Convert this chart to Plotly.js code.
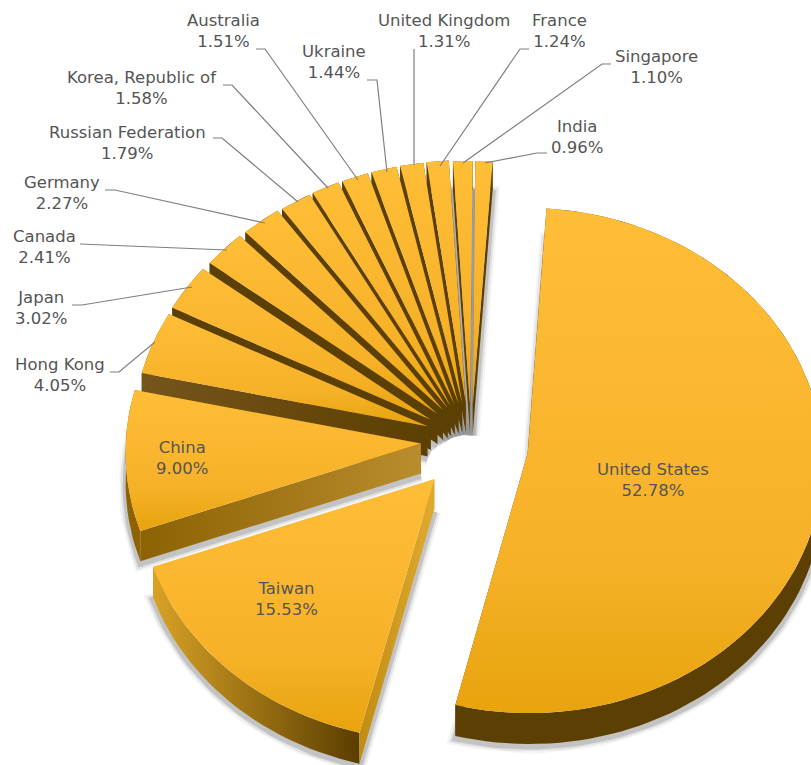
<!DOCTYPE html>
<html>
<head>
<meta charset="utf-8">
<script src="https://cdn.plot.ly/plotly-3.0.1.min.js"></script>
<style>html,body{margin:0;padding:0;background:#fff}#chart{width:811px;height:765px}</style>
</head>
<body>
<div id="chart"></div>
<script>
// Data (clockwise from the top)
const countries = ["United States","Taiwan","China","Hong Kong","Japan","Canada","Germany","Russian Federation","Korea, Republic of","Australia","Ukraine","United Kingdom","France","Singapore","India"];
const shares = [52.78,15.53,9.00,4.05,3.02,2.41,2.27,1.79,1.58,1.51,1.44,1.31,1.24,1.10,0.96];

// Label anchor points (x, centre y of the two lines)
const labelX = [653,286,182,60,41,44,62,127,142,223,334,444,559,656,577];
const labelY = [480,599,458,375,308,247,193,143,88,31,62,31,31,67,137];

// Extra per-slice displacement on top of the common explode
const nudgeX = [22,2,3,7,6,8,9,9,8,8,8,8,8,9,9];
const nudgeY = [0,4,-6,-8,-7,-8,-8,-7,-7,-7,-7,-7,-7,-6,-6];

// Leader lines, one per outside label
const leaders = {
  "Hong Kong":[[110,119,155],[372,372,342]],
  "Japan":[[72,82,192],[305,305,287]],
  "Canada":[[80,227],[244,250]],
  "Germany":[[105,115,265],[190,190,223]],
  "Russian Federation":[[213,222,298],[138,138,202]],
  "Korea, Republic of":[[223,232,328],[85,85,188]],
  "Australia":[[256,265,358],[49,49,180]],
  "Ukraine":[[367,377,387],[80,80,172]],
  "United Kingdom":[[414,414],[49,165]],
  "France":[[529,520,440],[49,49,166]],
  "Singapore":[[611,602,463],[64,64,163]],
  "India":[[547,537,485],[153,153,163]]
};

// Pie geometry
const CX=462, CY=447, RX=295, RY=252, PERSP=0.03, DEPTH=30, PULL=0.15, START=4;

// Side wall colours [start edge, outer arc, end edge], each [left, right]
const DARK=['#5c3f02','#5c3f02'];
const wallColors = {
  "United States":[DARK,DARK,DARK],
  "Taiwan":[['#c08c12','#e0aa30'],['#d9a226','#5a3d00'],['#d9a226','#d9a226']],
  "China":[['#8c6204','#b98c2c'],['#8c6204','#8c6204'],['#8c6204','#8c6204']],
  "Hong Kong":[['#75551a','#5c3f02'],['#75551a','#75551a'],['#75551a','#75551a']]
};
const topColors=[[0,'#e8a30d'],[0.3,'#f6b128'],[1,'#ffbe37']];

function project(u,v,z,i){
  const w=1+PERSP*v;
  return [CX+nudgeX[i]+RX*u/w, CY+nudgeY[i]-RY*v/w+z*DEPTH/w];
}
const rad=d=>d*Math.PI/180;
const total=shares.reduce((a,b)=>a+b,0);

function sliceGeom(i){
  const a0=START+360*shares.slice(0,i).reduce((a,b)=>a+b,0)/total;
  const a1=a0+360*shares[i]/total;
  const mid=(a0+a1)/2;
  const u0=PULL*Math.sin(rad(mid)), v0=PULL*Math.cos(rad(mid));
  const arc=[];
  const n=Math.max(2,Math.ceil((a1-a0)/2));
  for(let k=0;k<=n;k++){
    const t=a0+(a1-a0)*k/n;
    arc.push([u0+Math.sin(rad(t)),v0+Math.cos(rad(t))]);
  }
  return {apex:[u0,v0],arc};
}
function poly(points){
  return {x:points.map(p=>p[0]),y:points.map(p=>p[1])};
}
function band(path,color,i){
  const upper=path.map(p=>project(p[0],p[1],0,i));
  const lower=path.map(p=>project(p[0],p[1],1,i)).reverse();
  const pts=upper.concat(lower); pts.push(pts[0]);
  const xs=pts.map(p=>p[0]);
  return Object.assign(poly(pts),{type:'scatter',mode:'lines',fill:'toself',line:{width:0},hoverinfo:'skip',showlegend:false,
    fillgradient:{type:'horizontal',start:Math.min(...xs),stop:Math.max(...xs),colorscale:[[0,color[0]],[1,color[1]]]}});
}

const traces=[];
const geoms=countries.map((c,i)=>sliceGeom(i));

// soft shadow under the solids
[[14,'rgba(110,110,110,0.07)'],[10,'rgba(100,100,100,0.12)'],[6,'rgba(80,80,80,0.22)']].forEach(s=>{
  geoms.forEach((g,i)=>{
    const pts=[g.apex].concat(g.arc,[g.apex]).map(p=>project(p[0],p[1],1.08,i));
    traces.push(Object.assign(poly(pts),{type:'scatter',mode:'lines',line:{width:s[0],color:s[1]},hoverinfo:'skip',showlegend:false}));
  });
});

// back to front: the fan from India down to Taiwan, United States last
const order=countries.map((c,i)=>i).slice(1).reverse().concat([0]);
order.forEach(i=>{
  const g=geoms[i];
  const w=wallColors[countries[i]]||[DARK,DARK,DARK];
  traces.push(band([g.apex,g.arc[g.arc.length-1]],w[2],i));
  traces.push(band(g.arc,w[1],i));
  traces.push(band([g.apex,g.arc[0]],w[0],i));
  const pts=[g.apex].concat(g.arc,[g.apex]).map(p=>project(p[0],p[1],0,i));
  const ys=pts.map(p=>p[1]);
  traces.push(Object.assign(poly(pts),{type:'scatter',mode:'lines',fill:'toself',line:{width:0},name:countries[i],
    text:countries[i]+' '+shares[i].toFixed(2)+'%',hoverinfo:'text',showlegend:false,
    fillgradient:{type:'vertical',start:Math.max(...ys),stop:Math.min(...ys),colorscale:topColors}}));
});

// leader lines
Object.keys(leaders).forEach(k=>{
  traces.push({type:'scatter',mode:'lines',x:leaders[k][0],y:leaders[k][1],line:{width:1.2,color:'#7f7f7f'},hoverinfo:'skip',showlegend:false});
});

const annotations=countries.map((c,i)=>({
  x:labelX[i],y:labelY[i],xref:'x',yref:'y',showarrow:false,align:'center',
  text:c+'<br>'+shares[i].toFixed(2)+'%',
  font:{family:'"DejaVu Sans",sans-serif',size:16.5,color:'#555555'}
}));

Plotly.newPlot('chart',traces,{
  width:811,height:765,margin:{l:0,r:0,t:0,b:0},
  paper_bgcolor:'#ffffff',plot_bgcolor:'#ffffff',showlegend:false,
  xaxis:{range:[0,811],visible:false,fixedrange:true},
  yaxis:{range:[765,0],visible:false,fixedrange:true},
  annotations
},{displayModeBar:false,staticPlot:true});
</script>
</body>
</html>
